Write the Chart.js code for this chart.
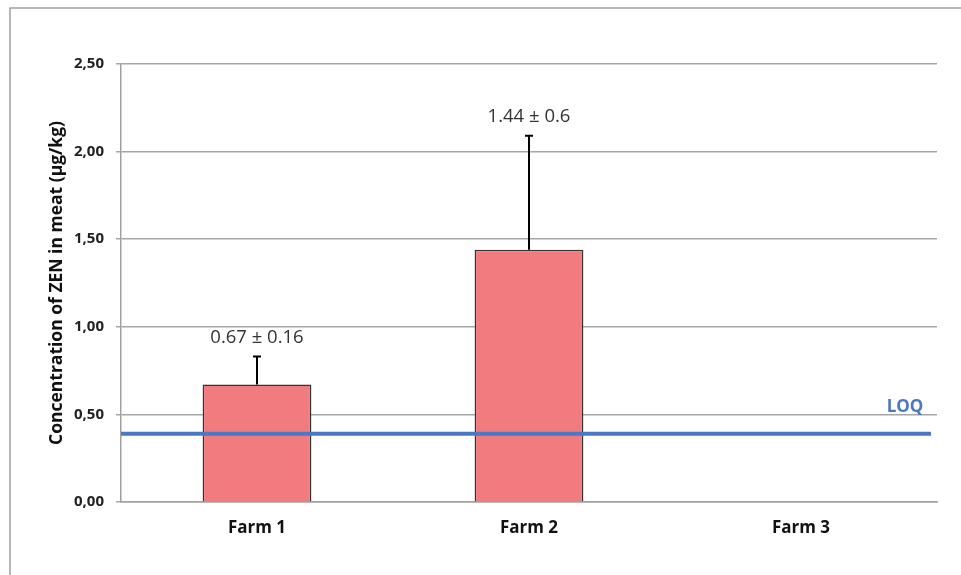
<!DOCTYPE html>
<html>
<head>
<meta charset="utf-8">
<script src="https://cdn.jsdelivr.net/npm/chart.js@4"></script>
<style>
  html, body { margin: 0; padding: 0; background: #fff; }
  #wrap { width: 961px; height: 575px; position: relative; }
</style>
</head>
<body>
<div id="wrap"><canvas id="myChart"></canvas></div>
<script>
// chart data
const farms = ["Farm 1", "Farm 2", "Farm 3"];
const meanZen = [0.67, 1.44, null];       // µg/kg
const errZen = [0.16, 0.65, null];        // upper error bar as drawn
const barLabels = ["0.67 \u00b1 0.16", "1.44 \u00b1 0.6", ""];
const loqValue = 0.39;
const yMin = 0, yMax = 2.5, yStep = 0.5;

const FONT = "'Open Sans', Lato, sans-serif";

// frame round the picture (top + left edge)
const framePlugin = {
  id: "frame",
  beforeDraw(chart) {
    const ctx = chart.ctx;
    ctx.save();
    ctx.strokeStyle = "#a0a0a0";
    ctx.lineWidth = 1.5;
    ctx.beginPath();
    ctx.moveTo(10, chart.height);
    ctx.lineTo(10, 8);
    ctx.lineTo(chart.width, 8);
    ctx.stroke();
    ctx.restore();
  }
};

// LOQ line, error bars and value labels
const extrasPlugin = {
  id: "extras",
  afterDatasetsDraw(chart) {
    const ctx = chart.ctx;
    const y = chart.scales.y;
    const area = chart.chartArea;
    const meta = chart.getDatasetMeta(0);
    ctx.save();

    // error bars
    meta.data.forEach((bar, i) => {
      if (meanZen[i] == null) return;
      const yTop = y.getPixelForValue(meanZen[i] + errZen[i]);
      const yBar = y.getPixelForValue(meanZen[i]);
      ctx.strokeStyle = "#000";
      ctx.lineWidth = 2;
      ctx.beginPath();
      ctx.moveTo(bar.x, yBar);
      ctx.lineTo(bar.x, yTop);
      ctx.moveTo(bar.x - 4, yTop);
      ctx.lineTo(bar.x + 4, yTop);
      ctx.stroke();
      // value label
      ctx.fillStyle = "#333";
      ctx.font = "18.5px " + FONT;
      ctx.textAlign = "center";
      ctx.textBaseline = "middle";
      ctx.fillText(barLabels[i], bar.x, yTop - 19);
    });

    // LOQ line
    const yl = y.getPixelForValue(loqValue);
    ctx.strokeStyle = "#4a78c2";
    ctx.lineWidth = 4;
    ctx.beginPath();
    ctx.moveTo(area.left, yl);
    ctx.lineTo(area.right - 6, yl);
    ctx.stroke();
    ctx.fillStyle = "#4a78c2";
    ctx.font = "bold 17px " + FONT;
    ctx.textAlign = "center";
    ctx.textBaseline = "middle";
    ctx.fillText("LOQ", area.right - 32, yl - 27);

    ctx.restore();
  }
};

new Chart("myChart", {
  type: "bar",
  data: {
    labels: farms,
    datasets: [{
      data: meanZen,
      backgroundColor: "#f07c80",
      borderColor: "#333",
      borderWidth: 1.5,
      barPercentage: 0.4,
      categoryPercentage: 1.0
    }]
  },
  options: {
    responsive: true,
    maintainAspectRatio: false,
    animation: false,
    layout: { padding: { left: 10, top: 64, right: 24, bottom: 0 } },
    plugins: {
      legend: { display: false },
      tooltip: { enabled: false }
    },
    scales: {
      x: {
        grid: { display: false, drawTicks: false },
        border: { display: true, color: "#a0a0a0", width: 1.5 },
        ticks: {
          padding: 16,
          color: "#111",
          font: { family: FONT, size: 17, weight: "bold" }
        },
        afterFit(s) { s.height = 73; }
      },
      y: {
        min: yMin,
        max: yMax,
        grid: { color: "#a6a6a6", lineWidth: 1.5, tickLength: 5, tickColor: "#a6a6a6" },
        border: { display: true, color: "#a0a0a0", width: 1.5 },
        ticks: {
          stepSize: yStep,
          padding: 12,
          color: "#222",
          font: { family: FONT, size: 15, weight: "bold" },
          callback: v => v.toFixed(2).replace(".", ",")
        },
        title: {
          display: true,
          text: "Concentration of ZEN in meat (\u00b5g/kg)",
          color: "#111",
          padding: { top: 37, bottom: 0 },
          font: { family: FONT, size: 17.5, weight: "bold" }
        },
        afterFit(s) { s.width = 111; }
      }
    }
  },
  plugins: [framePlugin, extrasPlugin]
});
</script>
</body>
</html>
